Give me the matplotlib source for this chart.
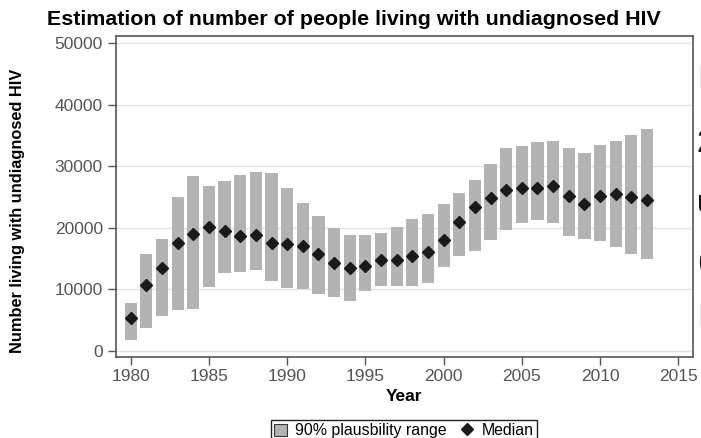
import matplotlib
matplotlib.use("Agg")
import matplotlib.pyplot as plt
from matplotlib.lines import Line2D
from matplotlib.patches import Patch

plt.rcParams['font.family'] = ['Liberation Sans', 'DejaVu Sans']

# Estimated number of people living with undiagnosed HIV, by year
years = list(range(1980, 2014))
median = [5400, 10700, 13500, 17600, 19000, 20100, 19500, 18700, 18900, 17600,
          17300, 17100, 15800, 14300, 13500, 13800, 14700, 14700, 15400, 16100,
          18000, 21000, 23300, 24800, 26200, 26500, 26500, 26800, 25100, 23900,
          25100, 25400, 25000, 24500]
lower90 = [1800, 3700, 5700, 6700, 6800, 10300, 12600, 12800, 13100, 11300,
           10200, 10000, 9200, 8700, 8100, 9700, 10600, 10500, 10600, 11100,
           13700, 15400, 16300, 18000, 19600, 20800, 21300, 20700, 18600, 18200,
           17900, 16800, 15700, 14900]
upper90 = [7700, 15800, 18200, 25000, 28400, 26700, 27600, 28600, 29100, 28900,
           26500, 24000, 21900, 20000, 18800, 18900, 19100, 20200, 21400, 22300,
           23800, 25700, 27800, 30400, 33000, 33300, 33900, 34100, 33000, 32200,
           33500, 34100, 35000, 36100]

yticks = [0, 10000, 20000, 30000, 40000, 50000]
xticks = [1980, 1985, 1990, 1995, 2000, 2005, 2010, 2015]

W, H = 701, 438
fig = plt.figure(figsize=(W / 100, H / 100), dpi=100)
ax = fig.add_axes([116 / W, 1 - 357 / H, (693 - 116) / W, (357 - 36) / H])

bar_color = '#b3b3b3'
heights = [u - l for u, l in zip(upper90, lower90)]
ax.bar(years, heights, bottom=lower90, width=0.78, color=bar_color,
       edgecolor='none', zorder=2)
ax.plot(years, median, linestyle='none', marker='D', markersize=6.5,
        color='#1a1a1a', zorder=3)

ax.set_xlim(1979.06, 2015.94)
ax.set_ylim(-1000, 51150)
ax.set_xticks(xticks)
ax.set_yticks(yticks)
ax.grid(axis='y', color='#e2e2e2', linewidth=1.0, zorder=0)
ax.set_axisbelow(True)

for s in ax.spines.values():
    s.set_color('#555555')
    s.set_linewidth(1.2)
ax.tick_params(axis='both', direction='out', length=5.5, width=1.0,
               color='#555555', labelcolor='#555555', labelsize=12.5)
ax.tick_params(axis='y', pad=4)
ax.tick_params(axis='x', pad=3)

ax.set_xlabel('Year', fontsize=12.5, fontweight='bold', labelpad=4)
fig.text(18 / W, 1 - 211 / H, 'Number living with undiagnosed HIV',
         rotation=90, ha='center', va='center', fontsize=11.8,
         fontweight='bold')

fig.text(354 / W, 1 - 25 / H,
         'Estimation of number of people living with undiagnosed HIV',
         ha='center', va='baseline', fontsize=15.4, fontweight='bold')

handles = [
    Patch(facecolor=bar_color, edgecolor='#333333', linewidth=0.8,
          label='90% plausbility range'),
    Line2D([], [], linestyle='none', marker='D', markersize=6,
           color='#1a1a1a', label='Median'),
]
fig.legend(handles=handles, loc='upper center',
           bbox_to_anchor=(404 / W, 1 - 420 / H), ncol=2, frameon=True,
           fancybox=False, edgecolor='#222222', framealpha=1,
           fontsize=11.4, handlelength=0.8, handleheight=0.8,
           handletextpad=0.5, columnspacing=0.9, borderpad=0.2,
           borderaxespad=0)

# Neighbouring slide text, clipped at the figure's right edge
for ypix, txt in [(88, 'I'), (152, '2'), (212, 'u'), (270, '('), (326, 'I')]:
    fig.text(697 / W, 1 - ypix / H, txt, ha='left', va='baseline',
             fontsize=22, color='#111111')

fig.savefig('out.png', dpi=100)
